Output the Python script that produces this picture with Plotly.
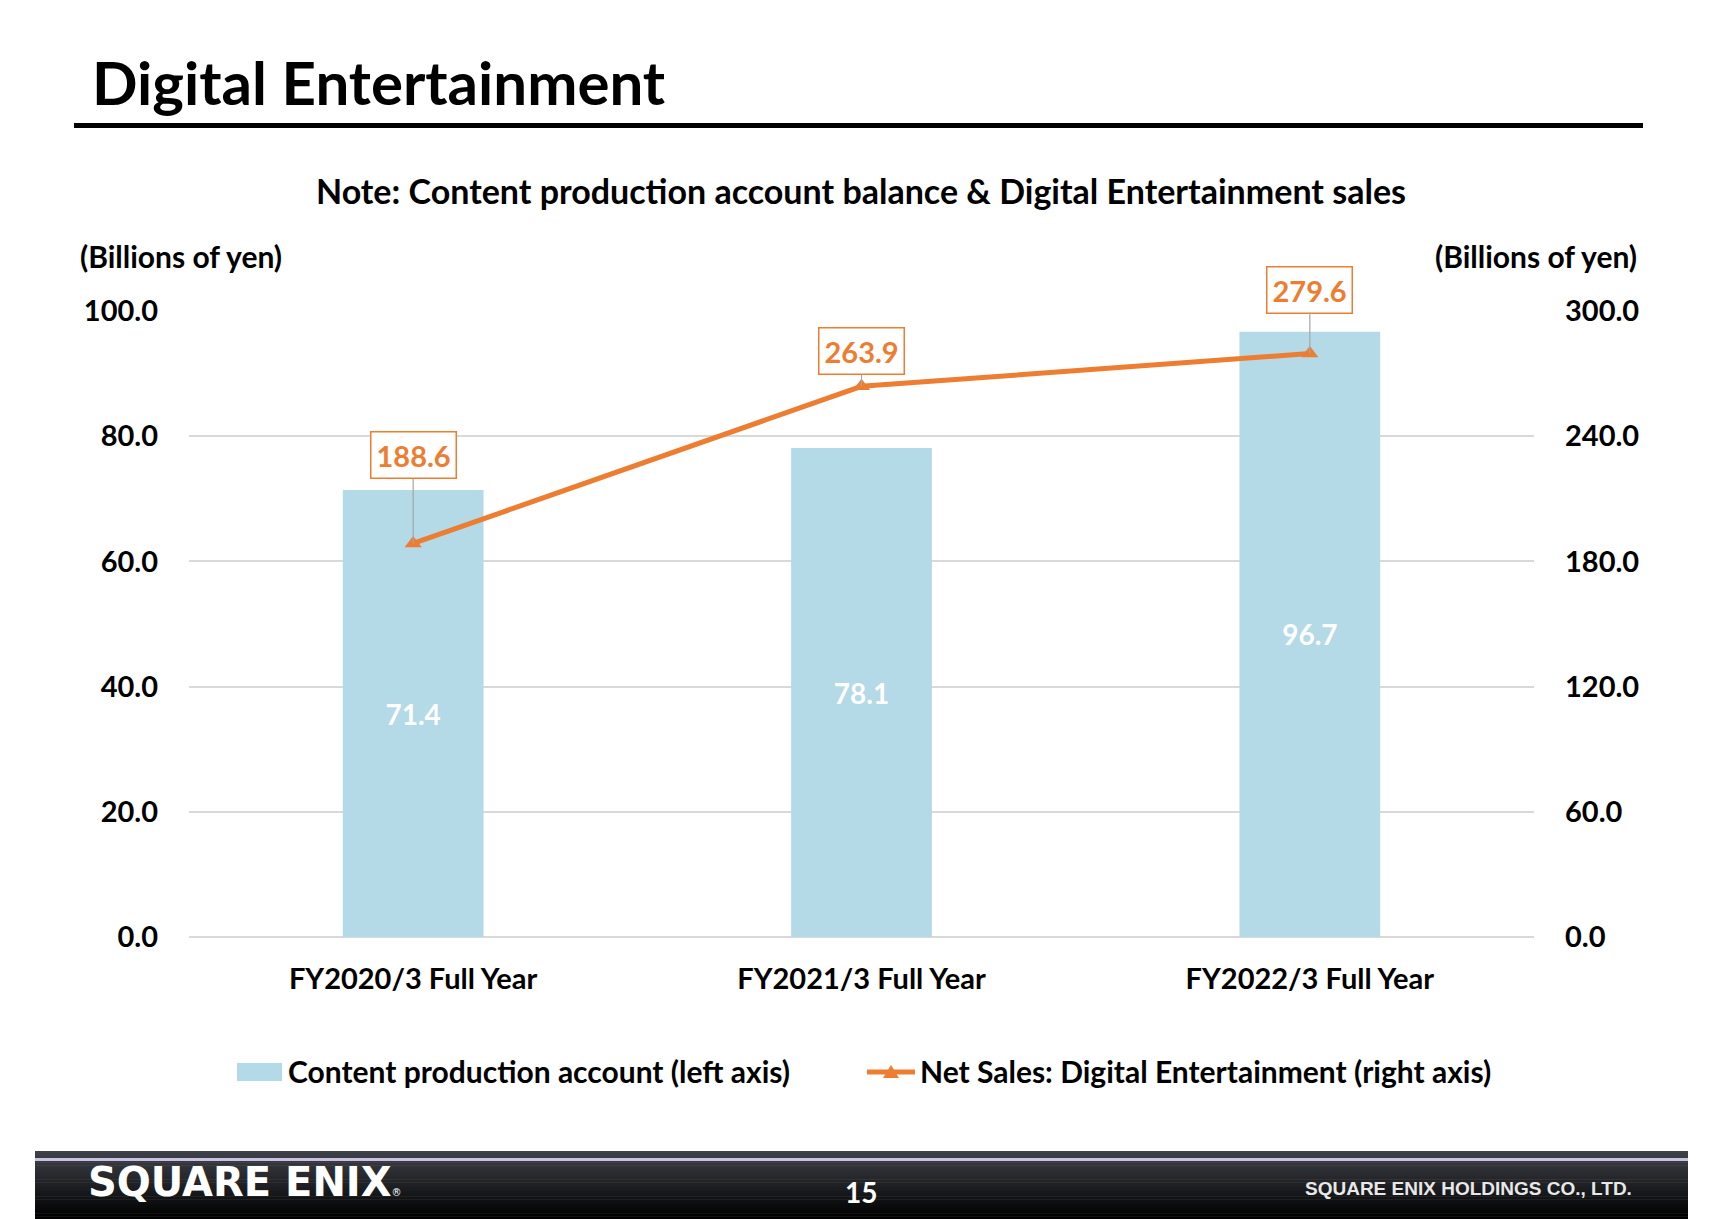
import plotly.graph_objects as go

categories = ["FY2020/3 Full Year", "FY2021/3 Full Year", "FY2022/3 Full Year"]
content_account = [71.4, 78.1, 96.7]
net_sales = [188.6, 263.9, 279.6]
label_offsets = [-88, -35, -64]  # pixel offset of the value boxes above each point
left_ticks = [0, 20, 40, 60, 80, 100]
right_ticks = [0, 60, 120, 180, 240, 300]
legend_names = ["Content production account (left axis)",
                "Net Sales: Digital Entertainment (right axis)"]

OFF = 8  # page body margin
W, H = 1709 - OFF, 1219 - OFF
# plot area in page pixels
PL, PR, PT, PB = 189, 1534, 311, 937
FONT = "Lato"
ORANGE = "#ED7D31"
BLUE = "#B4D9E7"


def px(x):
    return (x - PL) / (PR - PL)


def py(y):
    return (PB - y) / (PB - PT)


fig = go.Figure()
fig.add_trace(go.Bar(
    x=categories, y=content_account, name=legend_names[0],
    marker=dict(color=BLUE, line=dict(width=0)),
    text=[f"<b>{v:.1f}</b>" for v in content_account], textposition="inside",
    insidetextanchor="middle",
    textfont=dict(color="white", size=28, family=FONT),
    yaxis="y", showlegend=False,
))
fig.add_trace(go.Scatter(
    x=categories, y=net_sales, name=legend_names[1],
    mode="lines+markers", line=dict(color=ORANGE, width=5),
    marker=dict(symbol="triangle-up", size=15, color=ORANGE),
    yaxis="y2", showlegend=False,
))

for c, v, off in zip(categories, net_sales, label_offsets):
    fig.add_annotation(
        x=c, y=v, yref="y2", xref="x", text=f"<b>{v:.1f}</b>",
        showarrow=True, arrowhead=0, arrowwidth=1.2, arrowcolor="#A6A6A6",
        ax=0, ay=off, font=dict(color=ORANGE, size=29, family=FONT),
        bordercolor=ORANGE, borderwidth=1.5, borderpad=5, bgcolor="white",
    )

shapes = []
# Title rule
shapes.append(dict(type="rect", xref="paper", yref="paper",
                   x0=px(74), x1=px(1643), y0=py(128), y1=py(123),
                   fillcolor="black", line=dict(width=0), layer="above"))
# Custom legend symbols
shapes.append(dict(type="rect", xref="paper", yref="paper",
                   x0=px(237), x1=px(282), y0=py(1081), y1=py(1063),
                   fillcolor=BLUE, line=dict(width=0)))
shapes.append(dict(type="line", xref="paper", yref="paper",
                   x0=px(867), x1=px(915), y0=py(1072), y1=py(1072),
                   line=dict(color=ORANGE, width=5)))
tx, ty = 891, 1072
tri = f"M {px(tx-8)},{py(ty+6)} L {px(tx+8)},{py(ty+6)} L {px(tx)},{py(ty-7)} Z"
shapes.append(dict(type="path", xref="paper", yref="paper", path=tri,
                   fillcolor=ORANGE, line=dict(width=0)))

# Footer gradient band
top, bottom = 1151, 1219
n = 24
cols_top = (62, 65, 72)
cols_bot = (0, 0, 0)
for i in range(n):
    t = i / (n - 1)
    c = tuple(int(cols_top[k] + (cols_bot[k] - cols_top[k]) * t) for k in range(3))
    y0 = top + (bottom - top) * i / n
    y1 = top + (bottom - top) * (i + 1) / n + 0.5
    shapes.append(dict(type="rect", xref="paper", yref="paper",
                       x0=px(35), x1=px(1688), y0=py(y1), y1=py(y0),
                       fillcolor=f"rgb{c}", line=dict(width=0), layer="above"))
shapes.append(dict(type="rect", xref="paper", yref="paper",
                   x0=px(35), x1=px(1688), y0=py(1161), y1=py(1158),
                   fillcolor="#C8C2E0", line=dict(width=0), layer="above"))

annotations = [
    dict(text="<b>Digital Entertainment</b>", x=px(90), y=py(82), xanchor="left", yanchor="middle",
         font=dict(size=60, color="black", family=FONT)),
    dict(text="<b>Note: Content production account balance & Digital Entertainment sales</b>",
         x=px(861), y=py(190), xanchor="center", yanchor="middle",
         font=dict(size=34, color="black", family=FONT)),
    dict(text="<b>(Billions of yen)</b>", x=px(78), y=py(256), xanchor="left", yanchor="middle",
         font=dict(size=30, color="black", family=FONT)),
    dict(text="<b>(Billions of yen)</b>", x=px(1639), y=py(256), xanchor="right", yanchor="middle",
         font=dict(size=30, color="black", family=FONT)),
    dict(text=f"<b>{legend_names[0]}</b>", x=px(286), y=py(1071), xanchor="left", yanchor="middle",
         font=dict(size=30, color="black", family=FONT)),
    dict(text=f"<b>{legend_names[1]}</b>", x=px(918), y=py(1071), xanchor="left", yanchor="middle",
         font=dict(size=30, color="black", family=FONT)),
    dict(text="<b>SQUARE ENIX</b><span style='font-size:10px'>®</span>", x=px(86), y=py(1182),
         xanchor="left", yanchor="middle",
         font=dict(size=40, color="white", family="DejaVu Sans")),
    dict(text="<b>15</b>", x=px(861), y=py(1192), xanchor="center", yanchor="middle",
         font=dict(size=28, color="white", family=FONT)),
    dict(text="<b>SQUARE ENIX HOLDINGS CO., LTD.</b>", x=px(1634), y=py(1188), xanchor="right",
         yanchor="middle", font=dict(size=19, color="#E8E8E8", family="Liberation Sans Narrow, Liberation Sans")),
]
for a in annotations:
    a.update(xref="paper", yref="paper", showarrow=False)
    fig.add_annotation(**a)

fig.update_layout(
    width=W, height=H, autosize=False,
    margin=dict(l=PL - OFF, r=W - (PR - OFF), t=PT - OFF, b=H - (PB - OFF), pad=0),
    paper_bgcolor="white", plot_bgcolor="white",
    font=dict(family=FONT, color="black"),
    bargap=0.686,
    showlegend=False,
    shapes=shapes,
    xaxis=dict(showgrid=False, showline=False, ticks="", ticklabelstandoff=22,
               tickfont=dict(size=29, family=FONT, color="black", weight="bold")),
    yaxis=dict(range=[0, 100], tickvals=left_ticks, tickformat=".1f", showgrid=True,
               gridcolor="#D9D9D9", gridwidth=1.5, zeroline=True, zerolinecolor="#D9D9D9",
               zerolinewidth=1.5, ticklabelstandoff=30, fixedrange=True,
               tickfont=dict(size=29, family=FONT, color="black", weight="bold")),
    yaxis2=dict(range=[0, 300], tickvals=right_ticks, tickformat=".1f", overlaying="y",
                side="right", showgrid=False, zeroline=False, ticklabelstandoff=30,
                tickfont=dict(size=29, family=FONT, color="black", weight="bold")),
)

fig.write_html("out.html")
